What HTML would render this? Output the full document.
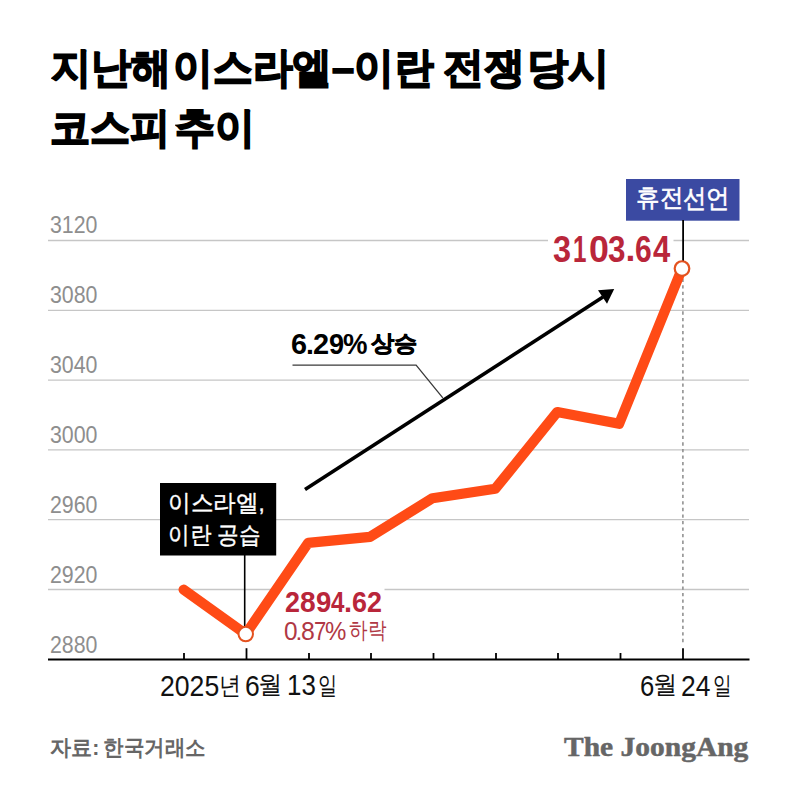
<!DOCTYPE html>
<html><head><meta charset="utf-8">
<style>
html,body{margin:0;padding:0;background:#fff;}
body{width:800px;height:798px;position:relative;overflow:hidden;font-family:"Liberation Sans",sans-serif;}
.t{position:absolute;white-space:nowrap;line-height:1;}
svg{position:absolute;left:0;top:0;}
</style></head><body>
<svg width="800" height="798" viewBox="0 0 800 798">
<g stroke="#c6c6c6" stroke-width="1.3"><line x1="48" y1="240.5" x2="749" y2="240.5"/><line x1="48" y1="310.3" x2="749" y2="310.3"/><line x1="48" y1="380.1" x2="749" y2="380.1"/><line x1="48" y1="449.9" x2="749" y2="449.9"/><line x1="48" y1="519.7" x2="749" y2="519.7"/><line x1="48" y1="589.5" x2="749" y2="589.5"/></g>
<line x1="682.9" y1="278.6" x2="682.9" y2="643" stroke="#8a8a8a" stroke-width="1.5" stroke-dasharray="3.3 3.25"/>
<line x1="48" y1="659.5" x2="749.5" y2="659.5" stroke="#000" stroke-width="2"/>
<g stroke="#000" stroke-width="1.8"><line x1="184" y1="653" x2="184" y2="660"/><line x1="309" y1="653" x2="309" y2="660"/><line x1="371" y1="653" x2="371" y2="660"/><line x1="433.5" y1="653" x2="433.5" y2="660"/><line x1="496" y1="653" x2="496" y2="660"/><line x1="558" y1="653" x2="558" y2="660"/><line x1="620.5" y1="653" x2="620.5" y2="660"/><line x1="246.5" y1="648.2" x2="246.5" y2="660"/><line x1="683" y1="648.2" x2="683" y2="660"/></g>
<rect x="548" y="230" width="125.5" height="34" fill="#fff"/>
<rect x="280" y="586" width="104.5" height="28" fill="#fff"/>
<rect x="626" y="179" width="113.5" height="41.7" fill="#3b4aa2"/>
<rect x="160" y="483" width="116.2" height="72.5" fill="#000"/>
<line x1="244.7" y1="555" x2="244.7" y2="627" stroke="#000" stroke-width="1.6"/>
<line x1="683.1" y1="220" x2="683.1" y2="261" stroke="#000" stroke-width="1.8"/>
<polyline points="292.5,365.1 416.1,365.1 442.8,397.8" fill="none" stroke="#3a3a3a" stroke-width="1.3"/>
<line x1="305" y1="489.5" x2="603" y2="297" stroke="#000" stroke-width="3.6"/>
<polygon points="614.2,289 598,290.2 607,303.8" fill="#000"/>
<polyline points="183.6,589.7 245.75,634.05 308.2,542.85 370,536.8 432.55,498.2 495.25,488.8 557.25,412 619.1,423.8 682,268.55" fill="none" stroke="#ff4b16" stroke-width="10.2" stroke-linejoin="round" stroke-linecap="round"/>
<circle cx="245.75" cy="634.05" r="7.25" fill="#fff" stroke="#e4521f" stroke-width="2"/>
<circle cx="682" cy="268.55" r="7.3" fill="#fff" stroke="#e4521f" stroke-width="2.2"/>
</svg>
<div class="t" style="left:51.0px;top:46.5px;font-size:42.01px;letter-spacing:0px;color:#000;font-weight:bold;-webkit-text-stroke:1.7px #000;transform:scaleX(0.956);transform-origin:0 0;">지난해</div>
<div class="t" style="left:173.16px;top:46.5px;font-size:42.01px;letter-spacing:0px;color:#000;font-weight:bold;-webkit-text-stroke:1.7px #000;transform:scaleX(0.947);transform-origin:0 0;">이스라엘–이란</div>
<div class="t" style="left:442.82px;top:46.5px;font-size:42.01px;letter-spacing:0px;color:#000;font-weight:bold;-webkit-text-stroke:1.7px #000;transform:scaleX(0.977);transform-origin:0 0;">전쟁</div>
<div class="t" style="left:527.05px;top:46.5px;font-size:42.01px;letter-spacing:0px;color:#000;font-weight:bold;-webkit-text-stroke:1.7px #000;transform:scaleX(0.982);transform-origin:0 0;">당시</div>
<div class="t" style="left:50.49px;top:106.5px;font-size:42.01px;letter-spacing:0px;color:#000;font-weight:bold;-webkit-text-stroke:1.7px #000;transform:scaleX(0.956);transform-origin:0 0;">코스피</div>
<div class="t" style="left:175.4px;top:106.5px;font-size:42.01px;letter-spacing:0px;color:#000;font-weight:bold;-webkit-text-stroke:1.7px #000;transform:scaleX(0.949);transform-origin:0 0;">추이</div>
<div class="t" style="left:49.62px;top:213.0px;font-size:24.29px;letter-spacing:0px;color:#8e8e8e;;transform:scaleX(0.879);transform-origin:0 0;">3120</div>
<div class="t" style="left:49.62px;top:283.0px;font-size:24.29px;letter-spacing:0px;color:#8e8e8e;;transform:scaleX(0.879);transform-origin:0 0;">3080</div>
<div class="t" style="left:49.62px;top:353.0px;font-size:24.29px;letter-spacing:0px;color:#8e8e8e;;transform:scaleX(0.879);transform-origin:0 0;">3040</div>
<div class="t" style="left:49.62px;top:423.0px;font-size:24.29px;letter-spacing:0px;color:#8e8e8e;;transform:scaleX(0.879);transform-origin:0 0;">3000</div>
<div class="t" style="left:49.62px;top:493.0px;font-size:24.29px;letter-spacing:0px;color:#8e8e8e;;transform:scaleX(0.879);transform-origin:0 0;">2960</div>
<div class="t" style="left:49.62px;top:563.0px;font-size:24.29px;letter-spacing:0px;color:#8e8e8e;;transform:scaleX(0.879);transform-origin:0 0;">2920</div>
<div class="t" style="left:49.62px;top:633.0px;font-size:24.29px;letter-spacing:0px;color:#8e8e8e;;transform:scaleX(0.879);transform-origin:0 0;">2880</div>
<div class="t" style="left:159.68px;top:671.5px;font-size:28.99px;letter-spacing:0px;color:#111;;transform:scaleX(0.918);transform-origin:0 0;">2025</div>
<div class="t" style="left:218.6px;top:672.5px;font-size:25.01px;letter-spacing:0px;color:#111;;transform:scaleX(0.882);transform-origin:0 0;">년</div>
<div class="t" style="left:244.69px;top:671.5px;font-size:28.99px;letter-spacing:0px;color:#111;;transform:scaleX(0.914);transform-origin:0 0;">6</div>
<div class="t" style="left:258.3px;top:672.4px;font-size:25.01px;letter-spacing:0px;color:#111;;transform:scaleX(0.975);transform-origin:0 0;">월</div>
<div class="t" style="left:286.64px;top:670.3px;font-size:29.44px;letter-spacing:0px;color:#111;;transform:scaleX(0.879);transform-origin:0 0;">13</div>
<div class="t" style="left:317.96px;top:672.5px;font-size:25.01px;letter-spacing:0px;color:#111;;transform:scaleX(0.77);transform-origin:0 0;">일</div>
<div class="t" style="left:639.71px;top:671.5px;font-size:28.99px;letter-spacing:0px;color:#111;;transform:scaleX(0.886);transform-origin:0 0;">6</div>
<div class="t" style="left:653.3px;top:672.4px;font-size:25.01px;letter-spacing:0px;color:#111;;transform:scaleX(0.975);transform-origin:0 0;">월</div>
<div class="t" style="left:681.34px;top:671.5px;font-size:28.99px;letter-spacing:0px;color:#111;;transform:scaleX(0.912);transform-origin:0 0;">24</div>
<div class="t" style="left:713.4px;top:672.5px;font-size:25.01px;letter-spacing:0px;color:#111;;transform:scaleX(0.75);transform-origin:0 0;">일</div>
<div class="t" style="left:635.66px;top:185.3px;font-size:25.14px;letter-spacing:0px;color:#fff;-webkit-text-stroke:0.6px #fff;transform:scaleX(0.941);transform-origin:0 0;">휴전</div>
<div class="t" style="left:682.9px;top:185.3px;font-size:26.28px;letter-spacing:0px;color:#fff;-webkit-text-stroke:0.6px #fff;transform:scaleX(0.902);transform-origin:0 0;">선언</div>
<div class="t" style="left:553.2px;top:232.1px;font-size:36.03px;letter-spacing:0px;color:#b9263a;font-weight:bold;transform:scaleX(0.9);transform-origin:0 0;">3</div>
<div class="t" style="left:572.66px;top:232.1px;font-size:36.03px;letter-spacing:0px;color:#b9263a;font-weight:bold;transform:scaleX(0.671);transform-origin:0 0;">1</div>
<div class="t" style="left:589.21px;top:232.1px;font-size:36.03px;letter-spacing:0px;color:#b9263a;font-weight:bold;transform:scaleX(0.994);transform-origin:0 0;">0</div>
<div class="t" style="left:608.43px;top:232.1px;font-size:36.03px;letter-spacing:0px;color:#b9263a;font-weight:bold;transform:scaleX(0.872);transform-origin:0 0;">3</div>
<div class="t" style="left:625.5px;top:231.5px;font-size:35.5px;letter-spacing:0px;color:#b9263a;font-weight:bold;">.</div>
<div class="t" style="left:635.17px;top:232.1px;font-size:36.03px;letter-spacing:0px;color:#b9263a;font-weight:bold;transform:scaleX(0.833);transform-origin:0 0;">6</div>
<div class="t" style="left:653.44px;top:232.1px;font-size:36.03px;letter-spacing:0px;color:#b9263a;font-weight:bold;transform:scaleX(0.858);transform-origin:0 0;">4</div>
<div class="t" style="left:284.67px;top:587.6px;font-size:28.99px;letter-spacing:0px;color:#b9263a;font-weight:bold;transform:scaleX(0.929);transform-origin:0 0;">2</div>
<div class="t" style="left:299.93px;top:587.6px;font-size:28.99px;letter-spacing:0px;color:#b9263a;font-weight:bold;transform:scaleX(0.971);transform-origin:0 0;">8</div>
<div class="t" style="left:315.55px;top:587.6px;font-size:28.99px;letter-spacing:0px;color:#b9263a;font-weight:bold;transform:scaleX(0.95);transform-origin:0 0;">9</div>
<div class="t" style="left:331.4px;top:587.6px;font-size:28.99px;letter-spacing:0px;color:#b9263a;font-weight:bold;transform:scaleX(0.831);transform-origin:0 0;">4</div>
<div class="t" style="left:344.0px;top:587.7px;font-size:29px;letter-spacing:0px;color:#b9263a;font-weight:bold;">.</div>
<div class="t" style="left:351.87px;top:587.6px;font-size:28.99px;letter-spacing:0px;color:#b9263a;font-weight:bold;transform:scaleX(0.929);transform-origin:0 0;">6</div>
<div class="t" style="left:366.87px;top:587.6px;font-size:28.99px;letter-spacing:0px;color:#b9263a;font-weight:bold;transform:scaleX(0.929);transform-origin:0 0;">2</div>
<div class="t" style="left:283.72px;top:619.1px;font-size:25.02px;letter-spacing:0px;color:#b03844;;transform:scaleX(0.975);transform-origin:0 0;">0</div>
<div class="t" style="left:295.5px;top:619.6px;font-size:24.5px;letter-spacing:0px;color:#b03844;;">.</div>
<div class="t" style="left:300.61px;top:619.1px;font-size:25.02px;letter-spacing:0px;color:#b03844;;transform:scaleX(0.992);transform-origin:0 0;">8</div>
<div class="t" style="left:313.52px;top:619.1px;font-size:25.02px;letter-spacing:0px;color:#b03844;;transform:scaleX(0.883);transform-origin:0 0;">7</div>
<div class="t" style="left:324.94px;top:619.1px;font-size:25.02px;letter-spacing:0px;color:#b03844;;transform:scaleX(0.96);transform-origin:0 0;">%</div>
<div class="t" style="left:348.69px;top:618.8px;font-size:23.24px;letter-spacing:0px;color:#b03844;;transform:scaleX(0.809);transform-origin:0 0;">하락</div>
<div class="t" style="left:168.32px;top:491.5px;font-size:23.63px;letter-spacing:0px;color:#fff;-webkit-text-stroke:0.4px #fff;transform:scaleX(0.942);transform-origin:0 0;">이스라엘,</div>
<div class="t" style="left:168.4px;top:523.75px;font-size:23.63px;letter-spacing:0px;color:#fff;-webkit-text-stroke:0.4px #fff;transform:scaleX(0.9);transform-origin:0 0;">이란 공습</div>
<div class="t" style="left:291.42px;top:329.1px;font-size:29.44px;letter-spacing:0px;color:#000;font-weight:bold;transform:scaleX(0.979);transform-origin:0 0;">6</div>
<div class="t" style="left:306.0px;top:330.3px;font-size:28.5px;letter-spacing:0px;color:#000;font-weight:bold;">.</div>
<div class="t" style="left:313.27px;top:329.1px;font-size:29.44px;letter-spacing:0px;color:#000;font-weight:bold;transform:scaleX(0.982);transform-origin:0 0;">2</div>
<div class="t" style="left:328.68px;top:329.1px;font-size:29.44px;letter-spacing:0px;color:#000;font-weight:bold;transform:scaleX(0.921);transform-origin:0 0;">9</div>
<div class="t" style="left:343.16px;top:329.1px;font-size:29.44px;letter-spacing:0px;color:#000;font-weight:bold;transform:scaleX(0.936);transform-origin:0 0;">%</div>
<div class="t" style="left:370.75px;top:331.9px;font-size:22.85px;letter-spacing:0px;color:#000;font-weight:bold;-webkit-text-stroke:0.7px #000;transform:scaleX(1.011);transform-origin:0 0;">상승</div>
<div class="t" style="left:50.04px;top:737.0px;font-size:22.27px;letter-spacing:0px;color:#666;font-weight:bold;transform:scaleX(0.958);transform-origin:0 0;">자료:</div>
<div class="t" style="left:102.57px;top:737.0px;font-size:21.71px;letter-spacing:0px;color:#666;font-weight:bold;transform:scaleX(0.932);transform-origin:0 0;">한국거래소</div>
<div class="t" style="left:564.2px;top:734.0px;font-size:27.01px;letter-spacing:0px;color:#666;font-weight:bold;font-family:'Liberation Serif',serif;-webkit-text-stroke:0.5px #666;transform:scaleX(1.092);transform-origin:0 0;">The JoongAng</div>
</body></html>
